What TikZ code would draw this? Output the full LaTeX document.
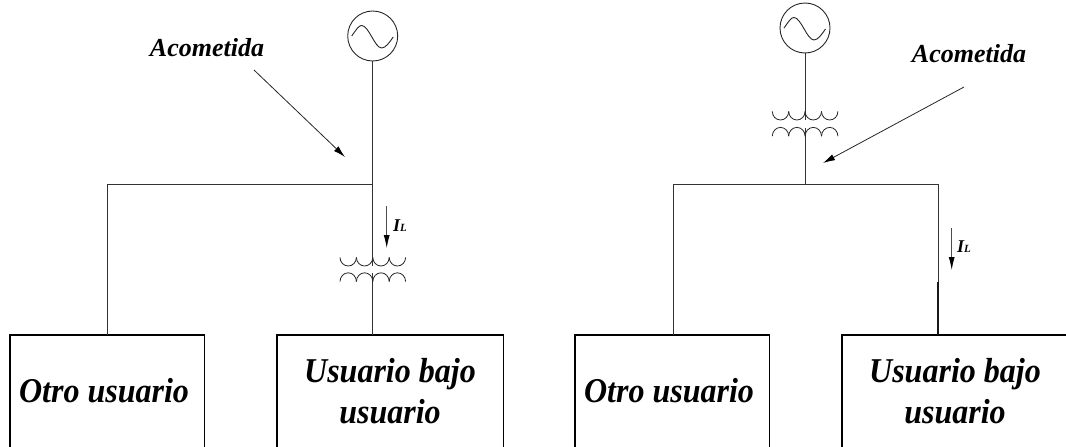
\documentclass[tikz,border=0pt]{standalone}
\usepackage{fontspec}
\setmainfont{Liberation Serif}
\newfontfamily\loadfont[FakeStretch=0.92]{Liberation Serif}
\usetikzlibrary{arrows.meta}
\tikzset{
  x=1pt,y=-1pt,
  wire/.style={line width=1pt,draw=black!80},
  gen/.style={circle,draw=black!85,line width=0.9pt,minimum size=50pt,inner sep=0pt},
  load/.style={rectangle,minimum width=194pt,minimum height=112pt,inner sep=0pt,anchor=north,align=center,font=\loadfont\fontsize{34.8}{40}\selectfont\bfseries\itshape},
  tag/.style={font=\fontsize{26}{30}\selectfont\bfseries\itshape,inner sep=0pt,anchor=base},
  cur/.style={font=\fontsize{18}{20}\selectfont\bfseries\itshape,inner sep=0pt,anchor=base west},
  curarrow/.style={line width=0.8pt,draw=black!70,-{Latex[length=13pt,width=6pt,black]}},
  leader/.style={line width=0.8pt,draw=black!85,-{Latex[length=12pt,width=6.5pt,black]}},
  coil/.style={line width=0.8pt,draw=black!85}
}
\newcommand{\loadframe}[1]{%
  \draw[line width=1.7pt,line cap=rect] (#1.south west) -- (#1.north west) -- (#1.north east);
  \draw[line width=1pt] (#1.north east) -- (#1.south east);}
\newcommand{\xfmr}[3]{% left x, top of upper coil, top of lower coil
  \foreach \k in {0,1,2,3}{
    \draw[coil] ({#1+\k*16.4},#2) arc[start angle=180,end angle=360,x radius=8.2pt,y radius=8.6pt];
    \draw[coil] ({#1+\k*16.4},#3+8.8) arc[start angle=180,end angle=0,x radius=8.2pt,y radius=8.8pt];
  }}
\newcommand{\wave}[2]{%
  \draw[line width=0.9pt,draw=black!85,xshift=#1pt,yshift=-#2pt]
    (-21,0) .. controls (-16,-7) and (-14,-10.5) .. (-11,-10.5)
    .. controls (-4,-10.5) and (2,12) .. (9,12)
    .. controls (13,12) and (17,6) .. (20.5,1);}
\newcommand{\IL}{I{\fontsize{11}{12}\selectfont L}}
\begin{document}
\begin{tikzpicture}
\useasboundingbox (0,0) rectangle (1066,447);
% left circuit
\node[gen] (g1) at (372.7,36) {};
\wave{372.7}{36}
\coordinate (j1) at (372.7,184);
\coordinate (t1a) at (372.7,265.5);
\coordinate (t1b) at (372.7,273);
\coordinate (c1) at (107,184);
\node[load] (o1) at (107,335) {\raisebox{1.5pt}{Otro usuario}\hspace*{6pt}};
\node[load,minimum width=226pt] (u1) at (390,335) {\raisebox{1.5pt}{Usuario bajo}\\\raisebox{1pt}{usuario}};
\loadframe{o1}\loadframe{u1}
\draw[wire] (g1.south) -- (j1) -- (t1a);
\draw[wire] (t1b) -- (t1b |- u1.north);
\draw[wire] (j1) -- (c1) -- (o1.north);
\xfmr{340}{257.4}{272.8}
\coordinate (i1a) at (386.7,206);
\coordinate (i1b) at (386.7,248);
\draw[curarrow] (i1a) -- (i1b);
\node[cur] (l1) at (393,231) {\IL};
\node[tag] (a1) at (207,56.7) {Acometida};
\coordinate (p1a) at (254,70);
\coordinate (p1b) at (345,157);
\draw[leader] (p1a) -- (p1b);
% right circuit
\node[gen] (g2) at (805,28) {};
\wave{805}{28}
\coordinate (t2a) at (805,120);
\coordinate (t2b) at (805,128);
\coordinate (j2) at (805,184);
\coordinate (c2) at (673,184);
\coordinate (c3) at (938,184);
\coordinate (c4) at (938,282);
\node[load] (o2) at (672,335) {\raisebox{1.5pt}{Otro usuario}\hspace*{6pt}};
\node[load,minimum width=226pt] (u2) at (955,335) {\raisebox{1.5pt}{Usuario bajo}\\\raisebox{1pt}{usuario}};
\loadframe{o2}\loadframe{u2}
\draw[wire] (g2.south) -- (t2a);
\draw[wire] (t2b) -- (j2);
\draw[wire] (c2) -- (c3) -- (c4);
\draw[line width=1.2pt,black!90] (c4) -- (c4 |- u2.north);
\draw[wire] (c2) -- (c2 |- o2.north);
\xfmr{772.3}{111.4}{127.4}
\coordinate (i2a) at (951.7,228);
\coordinate (i2b) at (951.7,270);
\draw[curarrow] (i2a) -- (i2b);
\node[cur] (l2) at (957,252.7) {\IL};
\node[tag] (a2) at (969,62) {Acometida};
\coordinate (p2a) at (964,87);
\coordinate (p2b) at (823,163);
\draw[leader] (p2a) -- (p2b);
\end{tikzpicture}
\end{document}
